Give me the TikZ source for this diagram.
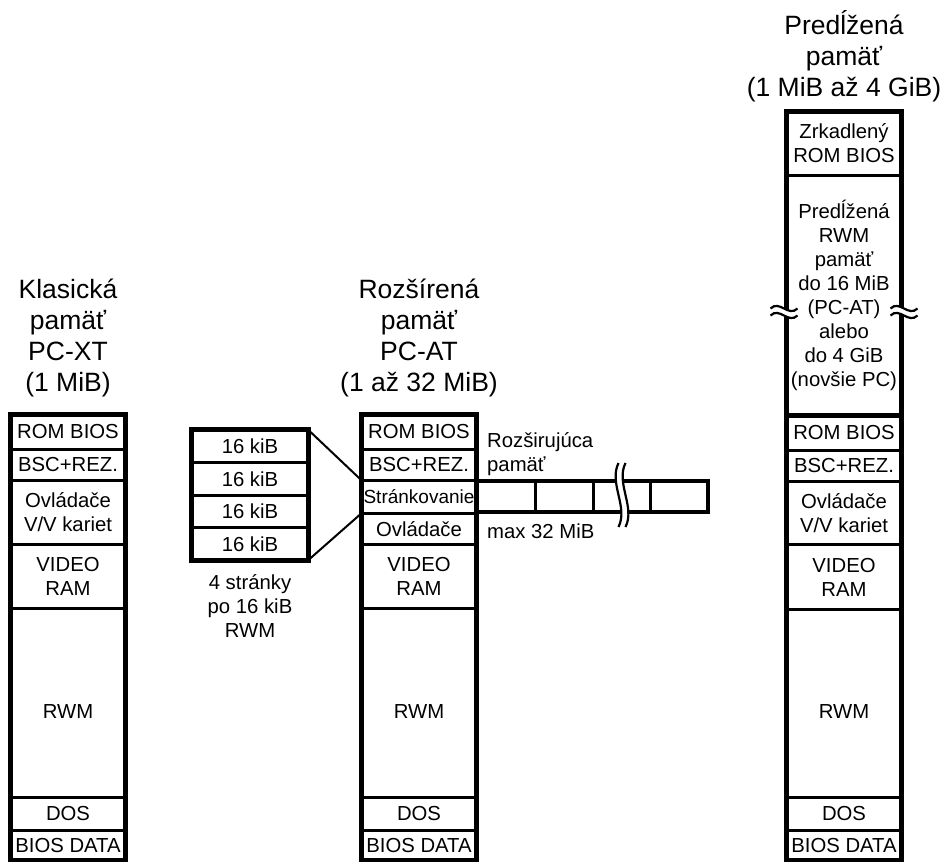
\documentclass[tikz,border=0pt]{standalone}
\usepackage{fontspec}
\setmainfont{Liberation Sans}
\usetikzlibrary{positioning}
\newcommand{\cellfont}{\fontsize{20.3}{24}\selectfont}
\newcommand{\narrowfont}{\fontsize{19}{24}\selectfont}
\newcommand{\headfont}{\fontsize{26.5}{31}\selectfont}
\tikzset{
  mcell/.style={inner sep=0pt, minimum width=114pt, align=center, font=\cellfont},
  mtitle/.style={inner sep=0pt, align=center, font=\headfont},
  mframe/.style={line width=5pt},
  msep/.style={line width=3pt},
  mstrip/.style={line width=4pt},
  mzoom/.style={line width=2pt},
  mbrk/.style={line width=2.2pt}
}
% break marks: horizontal pair over a column side, vertical pair over the strip
\newcommand{\breakmarkh}[2]{%
  \fill[white] (#1-13.5,#2-3.5) .. controls +(9,-9) and +(-9,9) .. (#1+13.5,#2-3.5)
    -- (#1+13.5,#2+3.5) .. controls +(-9,9) and +(9,-9) .. (#1-13.5,#2+3.5) -- cycle;
  \draw[mbrk] (#1-13.5,#2-3.5) .. controls +(9,-9) and +(-9,9) .. (#1+13.5,#2-3.5);
  \draw[mbrk] (#1-13.5,#2+3.5) .. controls +(9,-9) and +(-9,9) .. (#1+13.5,#2+3.5);
}
\newcommand{\breakmarkv}[2]{%
  \fill[white] (#1-3.5,#2-32) .. controls +(-10,20) and +(10,-20) .. (#1-3.5,#2+32)
    -- (#1+3.5,#2+32) .. controls +(10,-20) and +(-10,20) .. (#1+3.5,#2-32) -- cycle;
  \draw[mbrk] (#1-3.5,#2-32) .. controls +(-10,20) and +(10,-20) .. (#1-3.5,#2+32);
  \draw[mbrk] (#1+3.5,#2-32) .. controls +(-10,20) and +(10,-20) .. (#1+3.5,#2+32);
}

\begin{document}
\begin{tikzpicture}[x=1pt, y=-1pt]
\useasboundingbox (0,0) rectangle (948,862);

% titles
\node[mtitle] (tklas) at (68,338) {Klasická\\pamäť\\PC-XT\\(1 MiB)};
\node[mtitle] (troz) at (419,338) {Rozšírená\\pamäť\\PC-AT\\(1 až 32 MiB)};
\node[mtitle] (tpred) at (844,56) {Predĺžená\\pamäť\\(1 MiB až 4 GiB)};

% classic memory
\node[mcell, minimum height=34pt] (lrom) at (68,432) {ROM BIOS};
\node[mcell, minimum height=31pt, below=0pt of lrom] (lbsc) {BSC+REZ.};
\node[mcell, minimum height=63pt, below=0pt of lbsc] (lovl) {Ovládače\\V/V kariet};
\node[mcell, minimum height=64pt, below=0pt of lovl] (lvid) {VIDEO\\RAM};
\node[mcell] (lrwm) at (68,712) {RWM};
\node[mcell, minimum height=32pt] (ldos) at (68,814) {DOS};
\node[mcell, minimum height=30pt, below=0pt of ldos] (lbd) {BIOS DATA};
\draw[mframe] (lrom.north west) rectangle (lbd.south east);
\foreach \n in {lrom,lbsc,lovl,lvid,ldos}
  \draw[msep] (\n.south west) -- (\n.south east);
\draw[msep] (ldos.north west) -- (ldos.north east);

% extended memory
\node[mcell, minimum height=34pt] (mrom) at (419,432) {ROM BIOS};
\node[mcell, minimum height=31pt, below=0pt of mrom] (mbsc) {BSC+REZ.};
\node[mcell, minimum height=32pt, below=0pt of mbsc, font=\narrowfont] (mstr) {Stránkovanie};
\node[mcell, minimum height=31pt, below=0pt of mstr] (movl) {Ovládače};
\node[mcell, minimum height=64pt, below=0pt of movl] (mvid) {VIDEO\\RAM};
\node[mcell] (mrwm) at (419,712) {RWM};
\node[mcell, minimum height=32pt] (mdos) at (419,814) {DOS};
\node[mcell, minimum height=30pt, below=0pt of mdos] (mbd) {BIOS DATA};
\draw[mframe] (mrom.north west) rectangle (mbd.south east);
\foreach \n in {mrom,mbsc,mstr,movl,mvid,mdos}
  \draw[msep] (\n.south west) -- (\n.south east);
\draw[msep] (mdos.north west) -- (mdos.north east);

% expansion strip
\coordinate (xend) at (708,512);
\draw[mstrip] (mstr.north east) rectangle (xend);
\foreach \x in {535,593,650}
  \draw[msep] (\x,480) -- (\x,512);
\breakmarkv{622}{495}
\node[mcell, minimum width=0pt, align=left, anchor=west] (rozsir) at (487,454.5) {Rozširujúca\\pamäť};
\node[mcell, minimum width=0pt, anchor=west] (maxtxt) at (487,531) {max 32 MiB};

% page frame
\foreach \i in {1,...,4}
  \node[mcell, minimum width=116pt, minimum height=32.5pt] (kib\i) at (250,{413.75+32.5*\i}) {16 kiB};
\draw[mframe] (kib1.north west) rectangle (kib4.south east);
\foreach \i in {1,2,3}
  \draw[msep] (kib\i.south west) -- (kib\i.south east);
\node[mcell, minimum width=0pt, below=14pt of kib4] (kibtxt) {4 stránky\\po 16 kiB\\RWM};
\draw[mzoom] (kib1.north east) -- (mstr.north west);
\draw[mzoom] (kib4.south east) -- (mstr.south west);

% high memory
\node[mcell, minimum height=63pt] (rmir) at (844,143.5) {Zrkadlený\\ROM BIOS};
\node[mcell, minimum height=240pt, below=0pt of rmir] (rext) {Predĺžená\\RWM\\pamäť\\do 16 MiB\\(PC-AT)\\alebo\\do 4 GiB\\(novšie PC)};
\node[mcell, minimum height=34pt, below=0pt of rext] (rrom) {ROM BIOS};
\node[mcell, minimum height=31pt, below=0pt of rrom] (rbsc) {BSC+REZ.};
\node[mcell, minimum height=63pt, below=0pt of rbsc] (rovl) {Ovládače\\V/V kariet};
\node[mcell, minimum height=64pt, below=0pt of rovl] (rvid) {VIDEO\\RAM};
\node[mcell] (rrwm) at (844,712) {RWM};
\node[mcell, minimum height=32pt] (rdos) at (844,814) {DOS};
\node[mcell, minimum height=30pt, below=0pt of rdos] (rbd) {BIOS DATA};
\draw[mframe] (rmir.north west) rectangle (rbd.south east);
\draw[mframe] (rext.south west) -- (rext.south east);
\foreach \n in {rmir,rrom,rbsc,rovl,rvid,rdos}
  \draw[msep] (\n.south west) -- (\n.south east);
\draw[msep] (rdos.north west) -- (rdos.north east);
\breakmarkh{784}{312}
\breakmarkh{904}{312}
\end{tikzpicture}
\end{document}
